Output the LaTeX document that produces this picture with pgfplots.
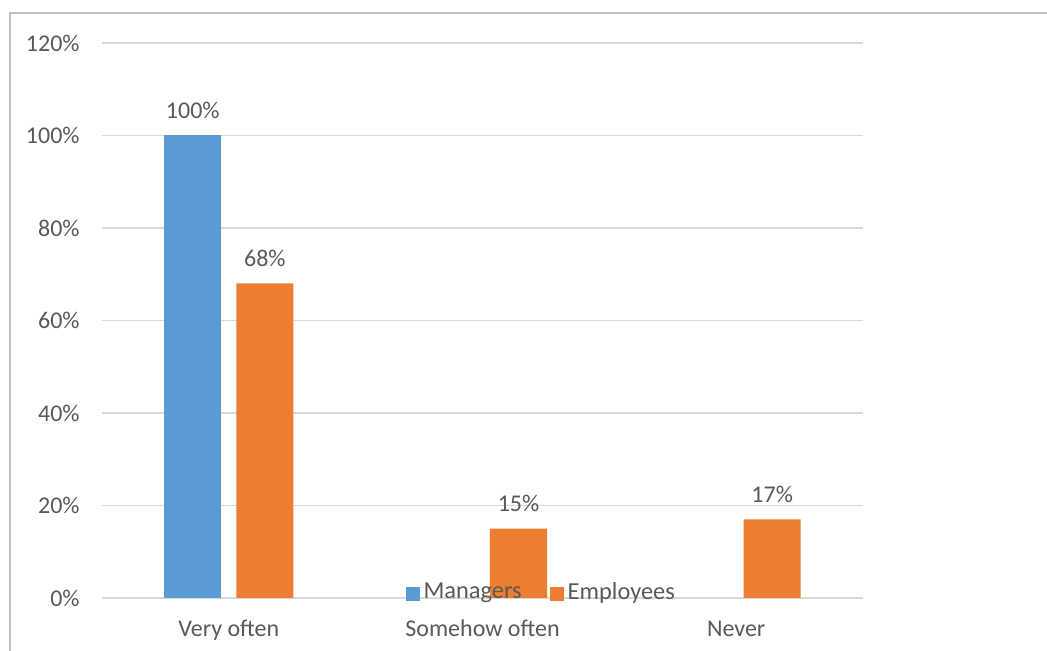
\documentclass[border=0pt]{standalone}
\usepackage{pgfplots}
\pgfplotsset{compat=1.18}
\usepackage{fontspec}
\setmainfont{Carlito}
\definecolor{mblue}{HTML}{5B9BD5}
\definecolor{morange}{HTML}{ED7D31}
\definecolor{txtgray}{HTML}{595959}
\definecolor{gridgray}{HTML}{D9D9D9}
\definecolor{framegray}{HTML}{BFBFBF}
\begin{document}
\begin{tikzpicture}
\path[use as bounding box] (0,0) rectangle (523.5pt,325.5pt);
\draw[framegray, line width=0.6pt] (5pt,0) -- (5pt,319pt) -- (523.5pt,319pt);
\begin{axis}[
  at={(51pt,26.5pt)}, anchor=south west,
  scale only axis, width=380.5pt, height=277.5pt,
  xmin=-0.5, xmax=2.5, ymin=0, ymax=120,
  ytick={0,20,...,120},
  xtick={0,1,2},
  xticklabels={Very often,Somehow often,Never},
  yticklabel={\pgfmathprintnumber{\tick}\%},
  /pgf/number format/assume math mode=true,
  major tick length=0pt,
  axis y line*=left, axis x line*=bottom,
  y axis line style={draw=none},
  x axis line style={gridgray, line width=0.6pt},
  ymajorgrids, grid style={gridgray, line width=0.6pt},
  tick label style={font=\fontsize{12}{14.4}\selectfont, text=txtgray},
  yticklabel style={inner sep=0pt, anchor=east, xshift=-11pt},
  xticklabel style={inner sep=0pt, anchor=base, yshift=-19.5pt},
  ybar, bar width=0.225,
  clip=false,
  nodes near coords={\pgfmathprintnumber{\pgfplotspointmeta}\%},
  every node near coord/.append style={font=\fontsize{12}{14.4}\selectfont, text=txtgray, anchor=south, inner sep=0pt, yshift=8.3pt},
  legend style={draw=none, fill=none, at={(0.5785,0.0105)}, anchor=center,
    font=\fontsize{12.2}{14.4}\selectfont, text=txtgray,
    /tikz/every even column/.append style={column sep=12pt},
    inner sep=0pt},
  legend columns=2,
  legend cell align=left,
  legend image code/.code={\fill[#1] (0pt,-4.2pt) rectangle (7pt,2.8pt);},
]
\addplot[fill=mblue, draw=none, bar shift=-0.142] coordinates {(0,100)};
\addlegendentry{Managers}
\addplot[fill=morange, draw=none, bar shift=0.142] coordinates {(0,68) (1,15) (2,17)};
\addlegendentry{Employees}
\end{axis}
\end{tikzpicture}
\end{document}
